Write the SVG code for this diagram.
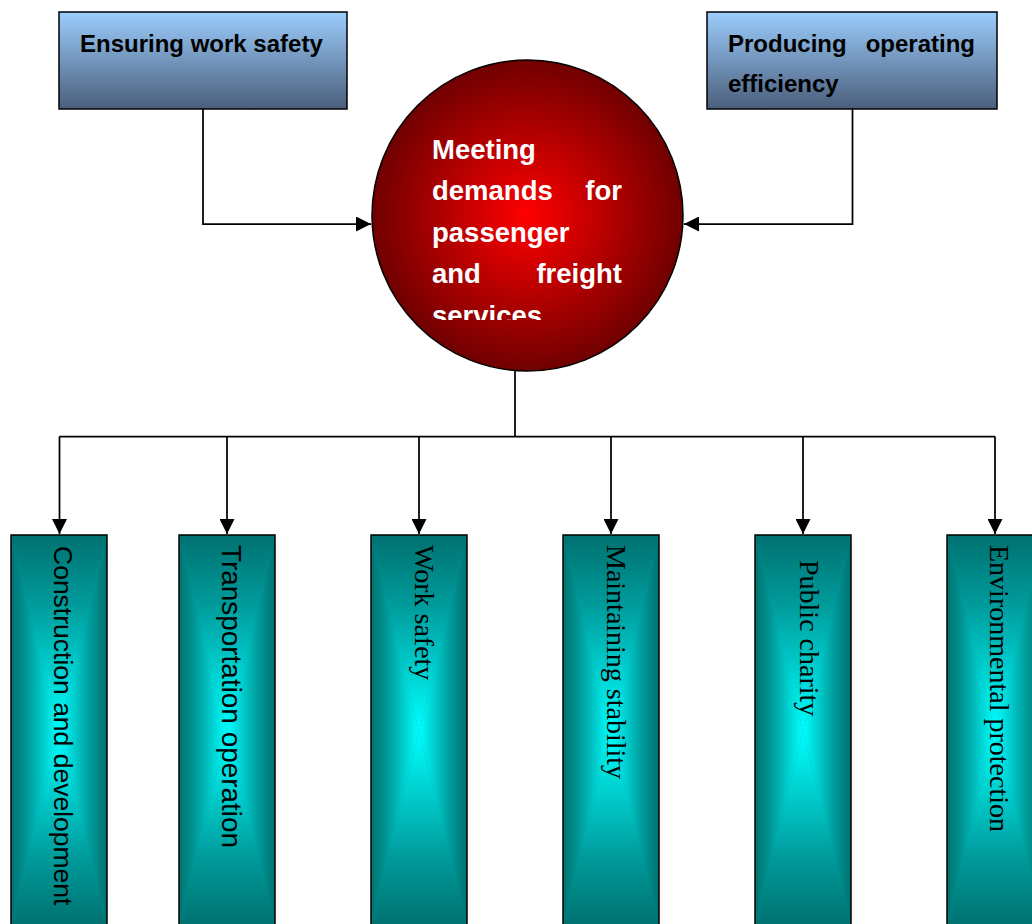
<svg xmlns="http://www.w3.org/2000/svg" xmlns:xlink="http://www.w3.org/1999/xlink" width="1032" height="924" viewBox="0 0 1032 924">
<style>
.topbox{stroke:#000;stroke-width:1.5;fill:url(#gBlue)}
.toptext{font-family:"Liberation Sans",Arial,sans-serif;font-weight:bold;font-size:24px;fill:#000}
.ctext{font-family:"Liberation Sans",Arial,sans-serif;font-weight:bold;font-size:27.5px;fill:#fff}
.vbox{fill:none;stroke:#000;stroke-width:1.5}
.vsans{font-family:"Liberation Sans",Arial,sans-serif;font-size:28px;fill:#000}
.vserif{font-family:"Liberation Serif","Times New Roman",serif;font-size:28px;fill:#000}
.conn{fill:none;stroke:#000;stroke-width:1.75}
</style>
<defs>
<linearGradient id="gBlue" x1="0" y1="0" x2="0" y2="1">
<stop offset="0" stop-color="#9CCDFD"/>
<stop offset="1" stop-color="#4A5E7B"/>
</linearGradient>
<radialGradient id="gRed" cx="0.5" cy="0.5" r="0.5">
<stop offset="0" stop-color="#FF0000"/>
<stop offset="1" stop-color="#700000"/>
</radialGradient>
<linearGradient id="gT" x1="0" y1="0" x2="0" y2="1">
<stop offset="0" stop-color="#007070"/>
<stop offset="0.35" stop-color="#009A9A"/>
<stop offset="0.75" stop-color="#00D8D8"/>
<stop offset="1" stop-color="#00FFFF"/>
</linearGradient>
<linearGradient id="gB" x1="0" y1="1" x2="0" y2="0">
<stop offset="0" stop-color="#007070"/>
<stop offset="0.35" stop-color="#009A9A"/>
<stop offset="0.75" stop-color="#00D8D8"/>
<stop offset="1" stop-color="#00FFFF"/>
</linearGradient>
<linearGradient id="gL" x1="0" y1="0" x2="1" y2="0">
<stop offset="0" stop-color="#007070"/>
<stop offset="0.35" stop-color="#009A9A"/>
<stop offset="0.75" stop-color="#00D8D8"/>
<stop offset="1" stop-color="#00FFFF"/>
</linearGradient>
<linearGradient id="gR" x1="1" y1="0" x2="0" y2="0">
<stop offset="0" stop-color="#007070"/>
<stop offset="0.35" stop-color="#009A9A"/>
<stop offset="0.75" stop-color="#00D8D8"/>
<stop offset="1" stop-color="#00FFFF"/>
</linearGradient>
<g id="tealFill">
<rect width="96" height="392" fill="#00A8A8"/>
<polygon points="0,0 96,0 48,196" fill="url(#gT)"/>
<polygon points="0,392 96,392 48,196" fill="url(#gB)"/>
<polygon points="0,0 0,392 48,196" fill="url(#gL)"/>
<polygon points="96,0 96,392 48,196" fill="url(#gR)"/>
<rect width="96" height="392" class="vbox"/>
</g>
<clipPath id="circClip"><rect x="360" y="50" width="340" height="270"/></clipPath>
<marker id="arr" viewBox="0 0 15 15" markerWidth="15" markerHeight="15" refX="15" refY="7.5" orient="auto" markerUnits="userSpaceOnUse">
<path d="M0,0 L15,7.5 L0,15 z" fill="#000"/>
</marker>
</defs>
<rect width="1032" height="924" fill="#fff"/>

<g id="connectors">
<path class="conn" d="M203,109 V224 H371" marker-end="url(#arr)"/>
<path class="conn" d="M852.5,109 V224 H684" marker-end="url(#arr)"/>
<path class="conn" d="M515,371 V436.5"/>
<path class="conn" d="M59.5,436.5 H995"/>
<path class="conn" d="M59.5,436.5 V534" marker-end="url(#arr)"/>
<path class="conn" d="M227,436.5 V534" marker-end="url(#arr)"/>
<path class="conn" d="M419,436.5 V534" marker-end="url(#arr)"/>
<path class="conn" d="M611,436.5 V534" marker-end="url(#arr)"/>
<path class="conn" d="M803,436.5 V534" marker-end="url(#arr)"/>
<path class="conn" d="M995,436.5 V534" marker-end="url(#arr)"/>
</g>

<g id="node-safety">
<rect class="topbox" x="59" y="12" width="288" height="97"/>
<text class="toptext" x="80" y="52">Ensuring work safety</text>
</g>

<g id="node-efficiency">
<rect class="topbox" x="707" y="12" width="290" height="97"/>
<text class="toptext" y="52"><tspan x="728">Producing</tspan><tspan x="865.7">operating</tspan></text>
<text class="toptext" x="728" y="92">efficiency</text>
</g>

<g id="node-demands">
<circle cx="527.5" cy="215.5" r="155.5" fill="url(#gRed)" stroke="#000" stroke-width="1.5"/>
<g clip-path="url(#circClip)">
<text class="ctext" x="432" y="159">Meeting</text>
<text class="ctext" y="199.5"><tspan x="432">demands</tspan><tspan x="585.3">for</tspan></text>
<text class="ctext" x="432" y="241.5">passenger</text>
<text class="ctext" y="283"><tspan x="432">and</tspan><tspan x="536.4">freight</tspan></text>
<text class="ctext" x="432" y="325">services</text>
</g>
</g>

<g id="node-construction">
<use xlink:href="#tealFill" x="11" y="535"/>
<text class="vsans" style="font-size:26.5px" transform="translate(54,546) rotate(90)">Construction and development</text>
</g>

<g id="node-transportation">
<use xlink:href="#tealFill" x="179" y="535"/>
<text class="vsans" transform="translate(222,545) rotate(90)" textLength="303" lengthAdjust="spacingAndGlyphs">Transportation operation</text>
</g>

<g id="node-worksafety">
<use xlink:href="#tealFill" x="371" y="535"/>
<text class="vserif" transform="translate(414.5,545) rotate(90)">Work safety</text>
</g>

<g id="node-stability">
<use xlink:href="#tealFill" x="563" y="535"/>
<text class="vserif" transform="translate(606.5,545) rotate(90)">Maintaining stability</text>
</g>

<g id="node-charity">
<use xlink:href="#tealFill" x="755" y="535"/>
<text class="vserif" transform="translate(799.5,560) rotate(90)">Public charity</text>
</g>

<g id="node-environment">
<use xlink:href="#tealFill" x="947" y="535"/>
<text class="vserif" transform="translate(989.5,545) rotate(90)" textLength="287" lengthAdjust="spacingAndGlyphs">Environmental protection</text>
</g>
</svg>
